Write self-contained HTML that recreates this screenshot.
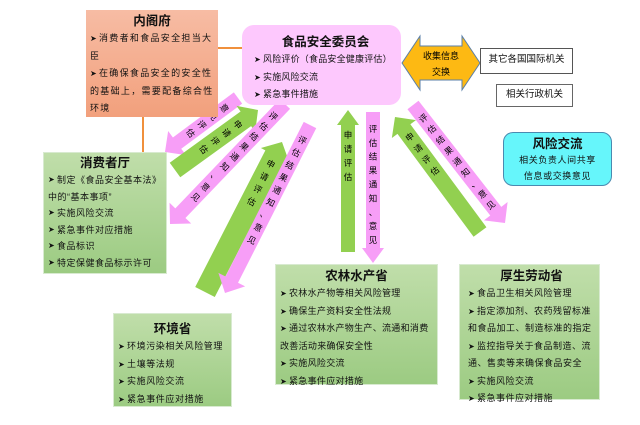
<!DOCTYPE html>
<html><head><meta charset="utf-8"><style>
body{margin:0;width:640px;height:425px;background:#fff;position:relative;overflow:hidden;font-family:"Liberation Sans","Noto Sans CJK SC",sans-serif;color:#111}
.b{position:absolute;box-sizing:border-box;font-size:9px;letter-spacing:0.6px;line-height:17.5px;padding:2px 4px}
.t{font-weight:bold;font-size:12.5px;letter-spacing:0;text-align:center;line-height:18px}
.g{background:linear-gradient(#c0deaa,#9ccb82);border:1px solid #d8ead0}
i{font-style:normal;display:inline-block;width:9px;height:17.5px;line-height:17.5px;vertical-align:top;overflow:hidden;letter-spacing:0;font-size:8px}
.c i{height:16.5px;line-height:16.5px}
svg{position:absolute;left:0;top:0}
</style></head><body>
<svg width="640" height="425" id="s">
<line x1="218" y1="48" x2="243" y2="48" stroke="#f0903c" stroke-width="2"/>
<line x1="143" y1="117" x2="143" y2="153" stroke="#f0903c" stroke-width="2"/>
<polygon points="402,63 420,36 420,46 462,46 462,36 480,63 462,90 462,80 420,80 420,90" fill="#fdb913" stroke="#5a7fa8" stroke-width="1"/>
<text x="441" y="59" font-size="9" text-anchor="middle" font-family="Liberation Sans,Noto Sans CJK SC,sans-serif">收集信息</text>
<text x="441" y="75" font-size="9" text-anchor="middle" font-family="Liberation Sans,Noto Sans CJK SC,sans-serif">交换</text>
<g id="arr"></g>
</svg>
<div class="b" style="left:86px;top:10px;width:132px;height:107px;background:linear-gradient(#f7bca4,#f2a07c);letter-spacing:1.3px"><div class="t">内阁府</div><i>➤</i>消费者和食品安全担当大臣<br><i>➤</i>在确保食品安全的安全性的基础上，需要配备综合性环境</div>
<div class="b" style="left:242px;top:25px;width:159px;height:80px;background:#fdc8fd;border-radius:12px;padding-left:12px;letter-spacing:0.2px"><div class="t" style="margin-top:6px">食品安全委员会</div><i>➤</i>风险评价（食品安全健康评估）<br><i>➤</i>实施风险交流<br><i>➤</i>紧急事件措施</div>
<div class="b" style="left:480px;top:48px;width:93px;height:26px;border:1px solid #555;font-size:9.5px;letter-spacing:0;line-height:22px;text-align:center;padding:0">其它各国国际机关</div>
<div class="b" style="left:496px;top:84px;width:77px;height:23px;border:1px solid #666;font-size:9.5px;letter-spacing:0;line-height:20px;text-align:center;padding:0">相关行政机关</div>
<div class="b" style="left:503px;top:132px;width:109px;height:54px;background:#66f6fb;border:1px solid #4a8ab0;border-radius:10px;text-align:center"><div class="t" style="line-height:16px;margin-top:1px">风险交流</div><div style="line-height:16px">相关负责人间共享<br>信息或交换意见</div></div>
<div class="b g c" style="left:43px;top:152px;width:124px;height:122px;letter-spacing:0.5px;line-height:16.5px;padding-top:1px"><div class="t">消费者厅</div><i>➤</i>制定《食品安全基本法》中的“基本事项”<br><i>➤</i>实施风险交流<br><i>➤</i>紧急事件对应措施<br><i>➤</i>食品标识<br><i>➤</i>特定保健食品标示许可</div>
<div class="b g" style="left:113px;top:313px;width:119px;height:94px"><div class="t" style="margin-top:4px">环境省</div><i>➤</i>环境污染相关风险管理<br><i>➤</i>土壤等法规<br><i>➤</i>实施风险交流<br><i>➤</i>紧急事件应对措施</div>
<div class="b g" style="left:275px;top:264px;width:163px;height:121px;letter-spacing:0.3px"><div class="t">农林水产省</div><i>➤</i>农林水产物等相关风险管理<br><i>➤</i>确保生产资料安全性法规<br><i>➤</i>通过农林水产物生产、流通和消费改善活动来确保安全性<br><i>➤</i>实施风险交流<br><i>➤</i>紧急事件应对措施</div>
<div class="b g" style="left:459px;top:264px;width:141px;height:136px;padding-left:8px;letter-spacing:0.5px"><div class="t">厚生劳动省</div><i>➤</i>食品卫生相关风险管理<br><i>➤</i>指定添加剂、农药残留标准和食品加工、制造标准的指定<br><i>➤</i>监控指导关于食品制造、流通、售卖等来确保食品安全<br><i>➤</i>实施风险交流<br><i>➤</i>紧急事件应对措施</div>
<script>
var P="#f79ef7",G="#92d050";
var A=[
[[238,98],[165,152],P,"意见评估",7,15],
[[175,170],[258,110],G,"申请评估",9,16],
[[285,104],[170,224],P,"评估结果通知、意见",7,15],
[[205,292],[282,142],G,"申请评估",11,16],
[[310,125],[225,293],P,"评估结果通知、意见",7,15],
[[348,252],[348,110],G,"申请评估",7,11],
[[373,112],[373,263],P,"评估结果通知、意见",7,11],
[[480,232],[395,117],G,"申请评估",8,15],
[[413,105],[505,223],P,"评估结果通知、意见",7,15]];
var g=document.getElementById("arr"),h="";
A.forEach(function(a){var t=a[0],e=a[1],dx=e[0]-t[0],dy=e[1]-t[1],L=Math.hypot(dx,dy),ang=Math.atan2(dy,dx)*180/Math.PI,w=a[4],H=a[5],hl=15;
h+='<polygon transform="translate('+t[0]+','+t[1]+') rotate('+ang+')" points="0,'+(-w)+' '+(L-hl)+','+(-w)+' '+(L-hl)+','+(-H)+' '+L+',0 '+(L-hl)+','+H+' '+(L-hl)+','+w+' 0,'+w+'" fill="'+a[2]+'"/>';
var top=t[1]<e[1]?t:e,bot=t[1]<e[1]?e:t,ux=(bot[0]-top[0])/L,uy=(bot[1]-top[1])/L,rd=Math.atan2(uy,ux)*180/Math.PI-90;
var n=a[3].length,sp=Math.min(14,(L-26)/n),st=(top===t?10:18);
for(var k=0;k<n;k++){var d=st+sp*(k+0.5),x=top[0]+ux*d,y=top[1]+uy*d;
h+='<text x="0" y="3" text-anchor="middle" font-size="8.5" font-family="Liberation Sans,Noto Sans CJK SC,sans-serif" transform="translate('+x.toFixed(1)+','+y.toFixed(1)+') rotate('+rd.toFixed(1)+')">'+a[3][k]+'</text>';}
});
g.innerHTML=h;
</script>
</body></html>
